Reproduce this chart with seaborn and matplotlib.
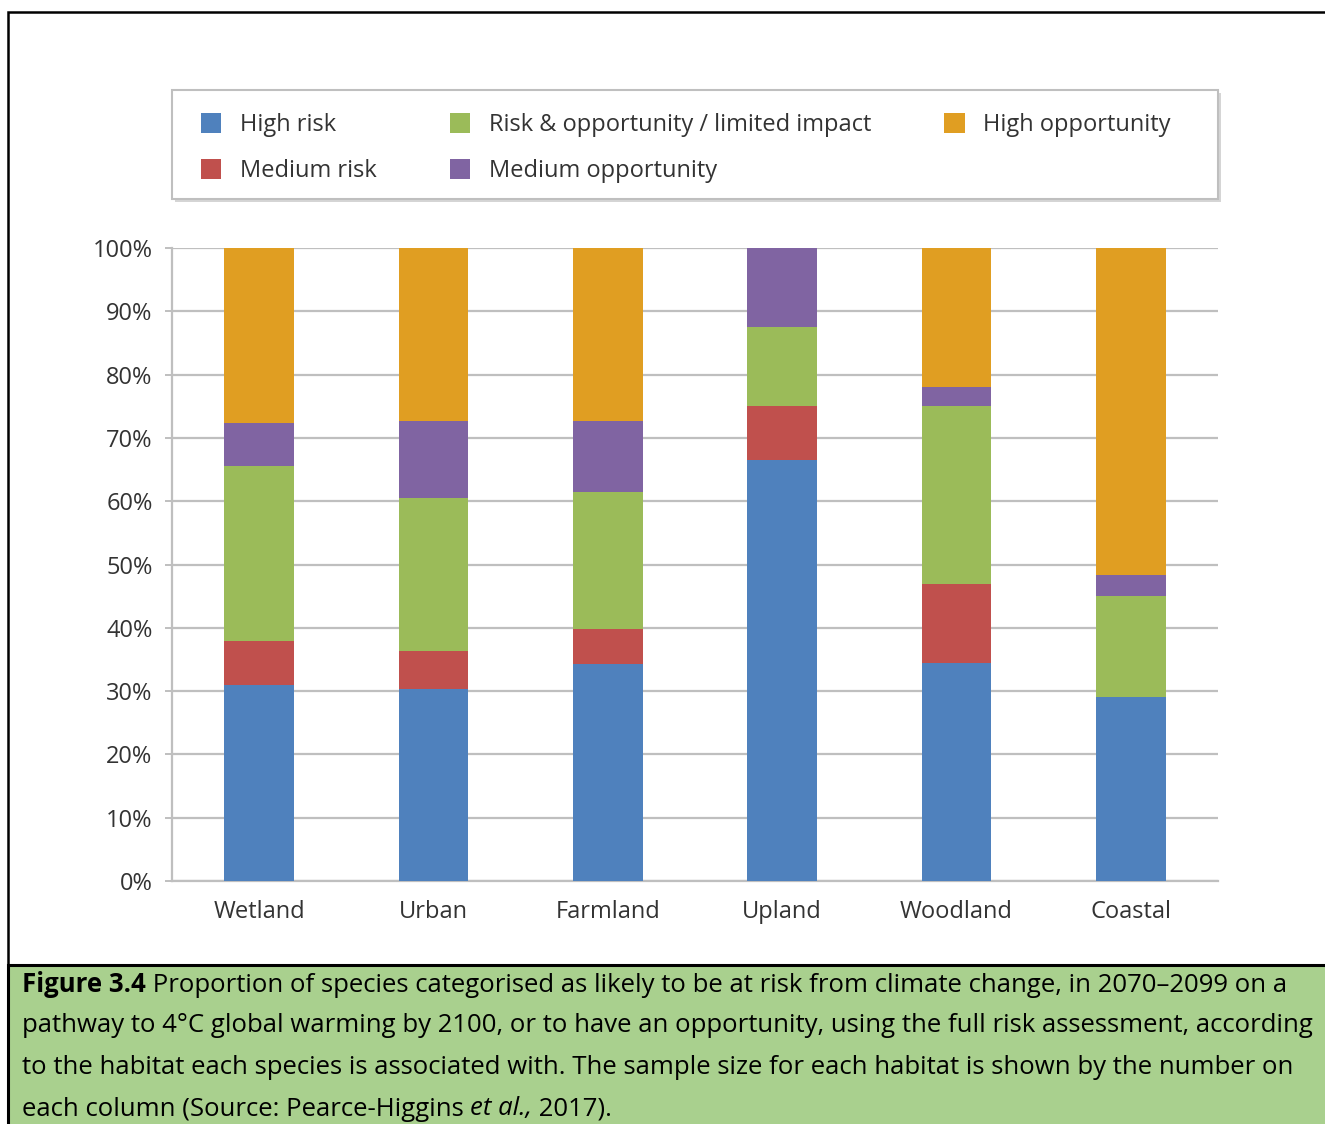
import numpy as np
import pandas as pd
import matplotlib
matplotlib.use("Agg")
import matplotlib.pyplot as plt
from matplotlib.patches import Rectangle
import seaborn as sns


# DATA

habitats = ["Wetland", "Urban", "Farmland", "Upland", "Woodland", "Coastal"]

high_risk = [31.0, 30.3, 34.3, 66.5, 34.4, 29.1]
medium_risk = [6.9, 6.0, 5.5, 8.5, 12.5, 0.0]
limited_impact = [27.7, 24.2, 21.7, 12.5, 28.2, 16.0]
medium_opp = [6.8, 12.2, 11.2, 12.5, 2.9, 3.2]
high_opp = [27.6, 27.3, 27.3, 0.0, 22.0, 51.7]

series_names = ["High risk", "Medium risk", "Risk & opportunity / limited impact",
                "Medium opportunity", "High opportunity"]
series_colors = ["#4F81BD", "#C0504D", "#9BBB59", "#8064A2", "#E09E22"]

y_ticks = [0, 10, 20, 30, 40, 50, 60, 70, 80, 90, 100]

caption_lines = [
    ("Figure 3.4", " Proportion of species categorised as likely to be at risk from climate change, in 2070\u20132099 on a"),
    ("", "pathway to 4\u00b0C global warming by 2100, or to have an opportunity, using the full risk assessment, according"),
    ("", "to the habitat each species is associated with. The sample size for each habitat is shown by the number on"),
]
caption_last = ["each column (Source: Pearce-Higgins ", "et al.,", " 2017)."]


# STYLE

sns.set_style("white")
plt.rcParams["font.family"] = ["Open Sans", "DejaVu Sans"]

W, H = 1325, 1124
fig = plt.figure(figsize=(W / 100, H / 100), dpi=100)

# axes placed in pixel terms
ax = fig.add_axes([172 / W, 1 - 881 / H, (1218 - 172) / W, (881 - 248) / H])

grey = "#BFBFBF"
txt_col = "#333333"

# STACKED BARS

series_vals = [high_risk, medium_risk, limited_impact, medium_opp, high_opp]
bottom = np.zeros(len(habitats))
for name, vals, col in zip(series_names, series_vals, series_colors):
    sns.barplot(x=habitats, y=vals, bottom=bottom, color=col, width=0.4,
                saturation=1, label=name, ax=ax, zorder=3, linewidth=0)
    bottom = bottom + np.array(vals)

handles, labels = ax.get_legend_handles_labels()
if ax.get_legend() is not None:
    ax.get_legend().remove()

ax.set_ylim(0, 100)
ax.set_xlim(-0.5, len(habitats) - 0.5)
ax.set_yticks(y_ticks)
ax.set_yticklabels([f"{t}%" for t in y_ticks])
ax.yaxis.grid(True, color=grey, linewidth=1.6, zorder=0)
ax.set_axisbelow(True)

for s in ["top", "right"]:
    ax.spines[s].set_visible(False)
for s in ["left", "bottom"]:
    ax.spines[s].set_color(grey)
    ax.spines[s].set_linewidth(1.6)

# tick labels at band centres, small ticks at band boundaries
ax.set_xticks(range(len(habitats)))
ax.set_xticklabels(habitats)
ax.tick_params(axis="x", length=0, pad=14, labelsize=17, labelcolor=txt_col)
ax.set_xticks(np.arange(-0.5, len(habitats) + 0.5, 1), minor=True)
ax.tick_params(axis="x", which="minor", length=5, width=1.4, color=grey, direction="out")
ax.tick_params(axis="y", length=5, width=1.4, color=grey, pad=9, labelsize=17,
               labelcolor=txt_col, left=True)
ax.set_xlabel("")
ax.set_ylabel("")

# LEGEND (frame drawn separately so the box can be wider than its content)

fig.add_artist(Rectangle((175 / W, 1 - 202 / H), (1218 - 172) / W, (199 - 90) / H,
                         transform=fig.transFigure, facecolor="#D5D5D5",
                         edgecolor="none", zorder=1))
fig.add_artist(Rectangle((172 / W, 1 - 199 / H), (1218 - 172) / W, (199 - 90) / H,
                         transform=fig.transFigure, facecolor="white",
                         edgecolor=grey, linewidth=1.5, zorder=1.1))

leg = fig.legend(handles, labels, ncol=3,
                 bbox_to_anchor=(201 / W, 1 - 113 / H),
                 loc="upper left", frameon=False,
                 fontsize=17, handlelength=0.85, handleheight=0.95,
                 handletextpad=0.8, labelspacing=0.9, columnspacing=3.1,
                 borderpad=0, borderaxespad=0)
leg.set_zorder(2)
for t in leg.get_texts():
    t.set_color(txt_col)

# FRAMES

fig.add_artist(Rectangle((8 / W, 1 - 965 / H), 1.2, (965 - 12) / H,
                         transform=fig.transFigure, fill=False,
                         edgecolor="black", linewidth=1.8, clip_on=False, zorder=0.5))
fig.add_artist(Rectangle((8 / W, -0.05), 1.2, 0.05 + (1124 - 965) / H,
                         transform=fig.transFigure, facecolor="#A9D08E",
                         edgecolor="black", linewidth=2.2, clip_on=False, zorder=-5))

# CAPTION

cap_font = dict(fontsize=18.5, color="black", family=["Open Sans", "DejaVu Sans"])
line_y = [985, 1026, 1068]
for (bold, rest), yy in zip(caption_lines, line_y):
    y = 1 - yy / H
    if bold:
        t1 = fig.text(22 / W, y, bold, va="center", ha="left", fontweight="bold", **cap_font)
        ax.annotate(rest, xy=(1, 0.5), xycoords=t1, va="center", ha="left",
                    annotation_clip=False, **cap_font)
    else:
        fig.text(22 / W, y, rest, va="center", ha="left", **cap_font)

y = 1 - 1109 / H
t1 = fig.text(22 / W, y, caption_last[0], va="center", ha="left", **cap_font)
t2 = ax.annotate(caption_last[1], xy=(1, 0.5), xycoords=t1, va="center", ha="left",
                 style="italic", annotation_clip=False, **cap_font)
ax.annotate(caption_last[2], xy=(1, 0.5), xycoords=t2, va="center", ha="left",
            annotation_clip=False, **cap_font)

fig.savefig("out.png", dpi=100)
